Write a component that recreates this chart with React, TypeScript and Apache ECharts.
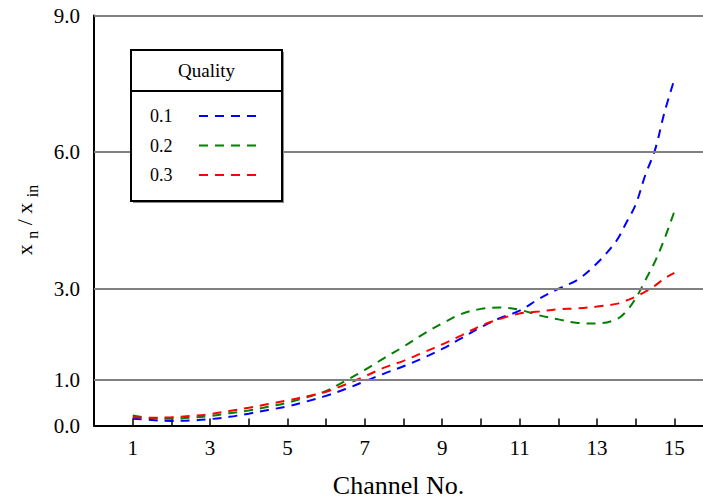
import React, { useEffect, useRef } from "react";
import * as echarts from "echarts";

const FONT = "'Liberation Serif', 'Times New Roman', serif";

const channels = [1, 1.5, 2, 2.5, 3, 3.5, 4, 4.5, 5, 5.5, 6, 6.5, 7, 7.5, 8, 8.5, 9, 9.5, 10, 10.5, 11, 11.5, 12, 12.5, 13, 13.5, 13.75, 14, 14.25, 14.5, 14.75, 15];

const quality01 = [0.15, 0.12, 0.10, 0.11, 0.14, 0.19, 0.26, 0.34, 0.42, 0.53, 0.65, 0.80, 0.97, 1.14, 1.30, 1.48, 1.68, 1.92, 2.16, 2.36, 2.52, 2.78, 3.00, 3.20, 3.56, 4.05, 4.44, 4.85, 5.50, 6.05, 6.89, 7.60];
const quality02 = [0.22, 0.16, 0.15, 0.17, 0.21, 0.27, 0.33, 0.41, 0.50, 0.62, 0.76, 0.98, 1.22, 1.48, 1.73, 2.00, 2.24, 2.45, 2.56, 2.59, 2.54, 2.42, 2.33, 2.25, 2.24, 2.33, 2.50, 2.79, 3.19, 3.60, 4.11, 4.70];
const quality03 = [0.18, 0.17, 0.18, 0.21, 0.25, 0.32, 0.39, 0.47, 0.55, 0.64, 0.74, 0.90, 1.08, 1.27, 1.42, 1.60, 1.78, 1.98, 2.19, 2.34, 2.46, 2.50, 2.55, 2.57, 2.61, 2.67, 2.74, 2.83, 2.94, 3.07, 3.23, 3.35];

const seriesNames = ["0.1", "0.2", "0.3"];
const seriesColors = ["#0000ff", "#008000", "#ff0000"];
const seriesValues = [quality01, quality02, quality03];

const xTickValues = [1, 2, 3, 4, 5, 6, 7, 8, 9, 10, 11, 12, 13, 14, 15];
const xLabelValues = [1, 3, 5, 7, 9, 11, 13, 15];
const yTickValues = [0, 1, 3, 6, 9];
const yGridValues = [1, 3, 6, 9];

export default function App() {
  const ref = useRef<HTMLDivElement>(null);

  useEffect(() => {
    document.body.style.margin = "0";
    const chart = echarts.init(ref.current!, null, { renderer: "svg" });
    const dash = [9, 7];

    const lineSeries = seriesValues.map((vals, i) => ({
      type: "line",
      name: seriesNames[i],
      data: channels.map((c, j) => [c, vals[j]]),
      showSymbol: false,
      symbol: "none",
      smooth: 0.35,
      z: 3,
      lineStyle: { color: seriesColors[i], width: 2, type: dash },
    }));

    const Z = 100;
    const legendItems: any[] = [];
    seriesNames.forEach((n, i) => {
      const y = 116 + i * 29.5;
      legendItems.push({
        type: "text",
        z: Z + 2,
        x: 150,
        y,
        style: { text: n, fontFamily: FONT, fontSize: 18, fill: "#000", align: "left", verticalAlign: "middle" },
      });
      legendItems.push({
        type: "line",
        z: Z + 2,
        shape: { x1: 199, y1: y, x2: 259, y2: y },
        style: { stroke: seriesColors[i], lineWidth: 2, lineDash: dash },
      });
    });

    chart.setOption({
      animation: false,
      grid: { left: 94, right: 0, top: 15.5, bottom: 74.5, containLabel: false, outerBoundsMode: "none" },
      xAxis: {
        type: "value",
        min: 0,
        max: 15.74,
        interval: 1,
        name: "Channel No.",
        nameLocation: "middle",
        nameGap: 47,
        nameTextStyle: { fontFamily: FONT, fontSize: 26, color: "#000" },
        axisLine: { show: true, lineStyle: { color: "#000", width: 2 } },
        axisTick: { show: true, inside: true, length: 7, customValues: xTickValues, lineStyle: { color: "#000", width: 1.5 } },
        axisLabel: {
          show: true,
          customValues: xLabelValues,
          margin: 12,
          fontFamily: FONT,
          fontSize: 21,
          color: "#000",
          formatter: (v: number) => String(v),
        },
        splitLine: { show: false },
      },
      yAxis: {
        type: "value",
        min: 0,
        max: 9,
        interval: 1,
        axisLine: { show: true, lineStyle: { color: "#000", width: 2 } },
        axisTick: { show: true, inside: true, length: 8, customValues: yTickValues, lineStyle: { color: "#000", width: 2 } },
        axisLabel: {
          show: true,
          customValues: yTickValues,
          margin: 14,
          fontFamily: FONT,
          fontSize: 21,
          color: "#000",
          formatter: (v: number) => v.toFixed(1),
        },
        splitLine: { show: false },
      },
      series: [
        {
          type: "line",
          name: "grid",
          data: [],
          z: 1,
          silent: true,
          markLine: {
            silent: true,
            symbol: "none",
            label: { show: false },
            lineStyle: { color: "#808080", width: 2, type: "solid" },
            data: yGridValues.map((v) => ({ yAxis: v })),
          },
        },
        ...lineSeries,
      ],
      graphic: [
        {
          type: "text",
          x: 24,
          y: 220,
          rotation: Math.PI / 2,
          style: {
            text: "{a|x} {b|n}{a| / x} {b|in}",
            fontFamily: FONT,
            fontSize: 22,
            fill: "#000",
            align: "center",
            verticalAlign: "middle",
            rich: {
              a: { fontFamily: FONT, fontSize: 22, lineHeight: 32, fill: "#000" },
              b: { fontFamily: FONT, fontSize: 16, lineHeight: 14, verticalAlign: "bottom", fill: "#000" },
            },
          },
        },
        { type: "rect", z: Z, shape: { x: 133, y: 52, width: 151, height: 151 }, style: { fill: "#8a8a8a" } },
        { type: "rect", z: Z + 1, shape: { x: 131, y: 50, width: 151, height: 151 }, style: { fill: "#fff", stroke: "#000", lineWidth: 2 } },
        { type: "line", z: Z + 2, shape: { x1: 131, y1: 91, x2: 282, y2: 91 }, style: { stroke: "#000", lineWidth: 2 } },
        {
          type: "text",
          z: Z + 2,
          x: 206.5,
          y: 70,
          style: { text: "Quality", fontFamily: FONT, fontSize: 19, fill: "#000", align: "center", verticalAlign: "middle" },
        },
        ...legendItems,
      ],
    });
    return () => chart.dispose();
  }, []);

  return <div ref={ref} style={{ position: "absolute", left: 0, top: 0, width: 703, height: 500 }} />;
}
